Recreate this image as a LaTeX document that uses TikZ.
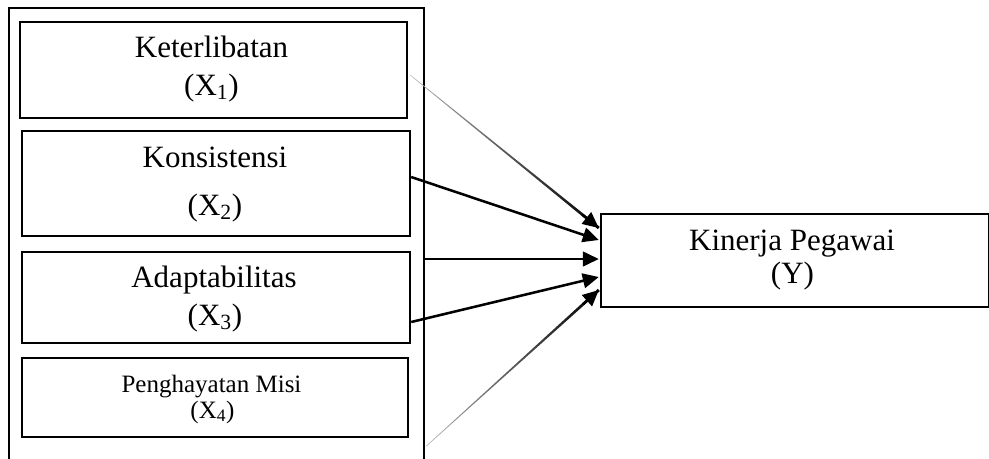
\documentclass[tikz,border=0pt]{standalone}
\usepackage{fontspec}
\setmainfont{Liberation Serif}
\usetikzlibrary{arrows.meta,calc}
\begin{document}
\begin{tikzpicture}[x=0.75pt,y=-0.75pt,
  frame/.style={draw,line width=1.8pt,inner sep=0pt,rectangle},
  lbl/.style={inner sep=0pt,anchor=base,font=\fontsize{23.25pt}{28pt}\selectfont},
  lblsmall/.style={inner sep=0pt,anchor=base,font=\fontsize{18.75pt}{22pt}\selectfont},
  arr/.style={line width=1.9pt,-{Triangle[length=12pt,width=11pt]}},
  taper/.style={left color=gray!60,right color=black,draw=none}]
\useasboundingbox (0,0) rectangle (989,458);
\clip (0,0) rectangle (989,458);
% outer frame (runs off the bottom)
\node[frame,minimum width=311.25pt,minimum height=354pt] (outer) at (216.5,244) {};
% boxes
\node[frame,minimum width=290.25pt,minimum height=72pt] (b1) at (213.5,70) {};
\node[frame,minimum width=291pt,minimum height=78.75pt] (b2) at (216,183.5) {};
\node[frame,minimum width=291pt,minimum height=68.25pt] (b3) at (216,297.5) {};
\node[frame,minimum width=289.5pt,minimum height=59.25pt] (b4) at (215,397.5) {};
\node[frame,minimum width=291pt,minimum height=69.75pt] (y) at (795,260.5) {};
% labels
\node[lbl] (t1a) at (211.5,57) {Keterlibatan};
\node[lbl] (t1b) at (211.5,95) {(X\textsubscript{1})};
\node[lbl] (t2a) at (215,167) {Konsistensi};
\node[lbl] (t2b) at (215,215) {(X\textsubscript{2})};
\node[lbl] (t3a) at (214,287) {Adaptabilitas};
\node[lbl] (t3b) at (215,325) {(X\textsubscript{3})};
\node[lblsmall] (t4a) at (211.5,392) {Penghayatan Misi};
\node[lblsmall] (t4b) at (212.5,418) {(X\textsubscript{4})};
\node[lbl] (tya) at (792,250) {Kinerja Pegawai};
\node[lbl] (tyb) at (792.5,283) {(Y)};
% connector end points
\coordinate (s1) at ($(b1.east)+(2,5)$);
\coordinate (s2) at ($(b2.east)+(0,-6.5)$);
\coordinate (s3) at ($(outer.east |- y.west)+(0,-1.5)$);
\coordinate (s4) at ($(b3.east)+(0,24.5)$);
\coordinate (s5) at ($(outer.east |- b4.south)+(1,8)$);
\coordinate (e1) at ($(y.west)+(-1,-32.5)$);
\coordinate (e2) at ($(y.west)+(-1,-20.5)$);
\coordinate (e3) at ($(y.west)+(-1,-1.5)$);
\coordinate (e4) at ($(y.west)+(-1,16.5)$);
\coordinate (e5) at ($(y.west)+(-1,29.5)$);
% tapered arrow 1
\shade[taper] ($(s1)!0.2pt!90:(e1)$) -- ($(e1)!1.1pt!-90:(s1)$) -- ($(e1)!1.1pt!90:(s1)$) -- ($(s1)!0.2pt!-90:(e1)$) -- cycle;
\draw[arr] ($(e1)!16pt!(s1)$) -- (e1);
% plain arrows
\draw[arr] (s2) -- (e2);
\draw[arr] (s3) -- (e3);
\draw[arr] (s4) -- (e4);
% tapered arrow 5
\shade[taper] ($(s5)!0.2pt!90:(e5)$) -- ($(e5)!1.1pt!-90:(s5)$) -- ($(e5)!1.1pt!90:(s5)$) -- ($(s5)!0.2pt!-90:(e5)$) -- cycle;
\draw[arr] ($(e5)!16pt!(s5)$) -- (e5);
\end{tikzpicture}
\end{document}
